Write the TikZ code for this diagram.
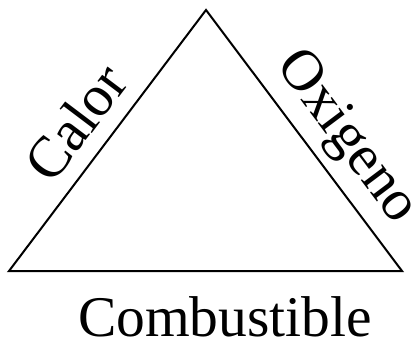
\documentclass[tikz,border=0pt]{standalone}
\usepackage{fontspec}
\setmainfont{Liberation Serif}
\usepackage{tikz}
\usetikzlibrary{positioning}

\begin{document}
\begin{tikzpicture}[
    x=1pt, y=-1pt,
    side/.style={draw=black, line width=2pt, line join=miter},
    sidelabel/.style={font=\fontsize{58}{62}\selectfont, inner sep=0pt, sloped},
    baselabel/.style={font=\fontsize{57.5}{62}\selectfont, inner sep=0pt, anchor=base}
]
    \useasboundingbox (0,0) rectangle (414,343);

    % corners of the fire triangle
    \coordinate (apex) at (206,10);
    \coordinate (left) at (9,271);
    \coordinate (right) at (402,271);

    \draw[side] (left) -- (apex) -- (right) -- cycle;

    \path (left) -- node[sidelabel, pos=0.485, above=16pt] (calor) {Calor} (apex);
    \path (apex) -- node[sidelabel, pos=0.57, above=9pt] (oxigeno) {Oxigeno} (right);
    \node[baselabel] (combustible) at (225,336) {Combustible};
\end{tikzpicture}
\end{document}
